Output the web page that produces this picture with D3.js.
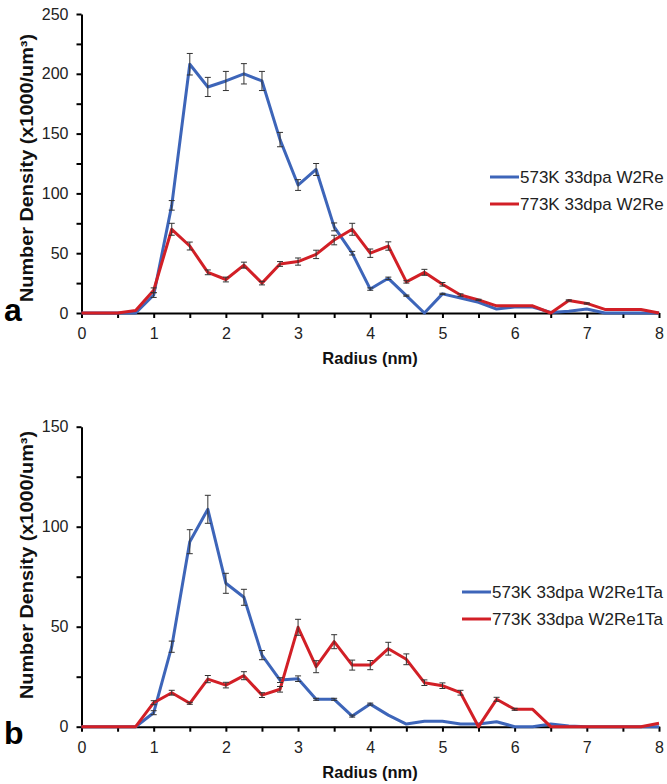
<!DOCTYPE html>
<html>
<head>
<meta charset="utf-8">
<script src="https://cdn.jsdelivr.net/npm/d3@7/dist/d3.min.js"></script>
<style>
  html, body { margin: 0; padding: 0; background: #fff; }
  svg { display: block; font-family: Arial, "Liberation Sans", sans-serif; }
</style>
</head>
<body>
<svg id="chart" width="667" height="784"></svg>
<script>
// ---------- data ----------
const radius = [0,0.25,0.5,0.75,1,1.25,1.5,1.75,2,2.25,2.5,2.75,3,3.25,3.5,3.75,4,4.25,4.5,4.75,5,5.25,5.5,5.75,6,6.25,6.5,6.75,7,7.25,7.5,7.75,8];

const xTicks = [0,0.5,1,1.5,2,2.5,3,3.5,4,4.5,5,5.5,6,6.5,7,7.5,8];
const xLabels = ["0","","1","","2","","3","","4","","5","","6","","7","","8"];

// panel a
const seriesNamesA = ["573K 33dpa W2Re", "773K 33dpa W2Re"];
const blueA = [0,0,0,0,15,90,208,189,194,200,194,145,107,120,72,50,20,29,14.5,0,16,12.5,9,3.3,5,5,0.5,1.4,3.3,0,0,0,0];
const errBlueA = [0,0,0,0,2,4,9,8,8,8.5,8,6,4.5,5,3.3,1.5,1,1,0.5,0,0.5,0,0,0,0,0,0,0,0,0,0,0,0];
const redA = [0,0,0,2,19,70,56,34,28,40,25,41,43,49,61,70,50,56,26,34,24,15,11,6,6,6,0,10.5,8,3,3,3,0];
const errRedA = [0,0,0,0,2,5,3.3,2,2,2.5,1.5,2,3,3.5,4,5,3.5,3.5,1,2.5,1.5,1,0.5,0,0,0,0,0.5,0.5,0,0,0,0];
const yTicksA = [0,25,50,75,100,125,150,175,200,225,250];
const yLabelsA = ["0","","50","","100","","150","","200","","250"];

// panel b
const seriesNamesB = ["573K 33dpa W2Re1Ta", "773K 33dpa W2Re1Ta"];
const blueB = [0,0,0,0,7,40,92.5,108.7,71.7,64.7,35.8,23.3,24,13.7,13.7,5.3,11.3,5.8,1.3,2.7,2.7,1.3,1.3,2.5,0,0,1.3,0.3,0,0,0,0,0];
const errBlueB = [0,0,0,0,1,2.8,6,7,5,4,2.3,1.2,1.4,0.5,0.5,0.5,0.5,0,0,0,0,0,0,0,0,0,0,0,0,0,0,0,0];
const redB = [0,0,0,0,12,17,11.7,23.8,20.8,25.5,15.8,18.7,49.7,30,42.5,30.8,30.8,39,33.7,22,20.5,17,0,13.7,8.7,8.7,0,0,0,0,0,0,1.7];
const errRedB = [0,0,0,0,1,1.2,0.5,1.8,1.4,2,1.2,1.4,4,3,3.5,2.5,2.3,3.2,2.7,1.4,1.4,1.2,0,1,0.5,0,0,0,0,0,0,0,0];
const yTicksB = [0,25,50,75,100,125,150];
const yLabelsB = ["0","","50","","100","","150"];

const xTitle = "Radius (nm)";
const yTitle = "Number Density (x1000/um³)";
const colors = ["#3d65b9", "#d21f26"];

// ---------- drawing ----------
const svg = d3.select("#chart");

function panel(cfg) {
  const g = svg.append("g");
  const x = d3.scaleLinear().domain([0, 8]).range([81.5, 659]);
  const y = d3.scaleLinear().domain([0, cfg.yMax]).range([cfg.y0, cfg.yTop]);

  // axes
  const xAxis = d3.axisBottom(x).tickValues(xTicks)
    .tickFormat((d, i) => xLabels[i]).tickSize(5).tickSizeOuter(0).tickPadding(10);
  const gx = g.append("g").attr("transform", `translate(0,${cfg.y0})`).call(xAxis);
  const yAxis = d3.axisLeft(y).tickValues(cfg.yTicks)
    .tickFormat((d, i) => cfg.yLabels[i]).tickSize(5).tickSizeOuter(0).tickPadding(8);
  const gy = g.append("g").attr("transform", `translate(81.5,0)`).call(yAxis);
  [gx, gy].forEach(a => {
    a.select(".domain").attr("stroke", "#000").attr("stroke-width", 2);
    a.selectAll(".tick line").attr("stroke", "#000").attr("stroke-width", 2);
    a.selectAll(".tick text").attr("fill", "#222").style("font-size", "16px")
      .style("font-family", "Arial, 'Liberation Sans', sans-serif");
  });

  // lines
  const line = d3.line().x((d, i) => x(radius[i])).y(d => y(d));
  cfg.series.forEach((s, k) => {
    g.append("path").datum(s.values)
      .attr("fill", "none").attr("stroke", colors[k]).attr("stroke-width", 3)
      .attr("stroke-linejoin", "round").attr("d", line);
  });

  // error bars
  cfg.series.forEach((s, k) => {
    const pts = s.values.map((v, i) => ({ x: radius[i], v, e: s.err[i] })).filter(p => p.e > 0);
    const eg = g.append("g").attr("stroke", "#333").attr("stroke-width", 1).attr("fill", "none");
    pts.forEach(p => {
      const cx = x(p.x), lo = y(p.v - p.e), hi = y(p.v + p.e);
      eg.append("line").attr("x1", cx).attr("x2", cx).attr("y1", lo).attr("y2", hi);
      eg.append("line").attr("x1", cx - 3).attr("x2", cx + 3).attr("y1", lo).attr("y2", lo);
      eg.append("line").attr("x1", cx - 3).attr("x2", cx + 3).attr("y1", hi).attr("y2", hi);
    });
  });

  // axis titles
  g.append("text").attr("x", 370).attr("y", cfg.xTitleY)
    .attr("text-anchor", "middle").attr("dominant-baseline", "central")
    .style("font-size", "16.5px").style("font-weight", "bold").attr("fill", "#111").text(xTitle);
  g.append("text").attr("transform", `translate(27,${cfg.yTitleY}) rotate(-90)`)
    .attr("text-anchor", "middle").attr("dominant-baseline", "central")
    .attr("textLength", 268).attr("lengthAdjust", "spacingAndGlyphs")
    .style("font-size", "18px").style("font-weight", "bold").attr("fill", "#111").text(yTitle);

  // panel letter
  g.append("text").attr("x", 4).attr("y", cfg.letterY)
    .style("font-size", "32px").style("font-weight", "bold").attr("fill", "#000").text(cfg.letter);

  // legend
  cfg.series.forEach((s, k) => {
    const ly = cfg.legY[k];
    g.append("line").attr("x1", cfg.legX).attr("x2", cfg.legX + 29).attr("y1", ly).attr("y2", ly)
      .attr("stroke", colors[k]).attr("stroke-width", 3);
    g.append("text").attr("x", cfg.legX + 30).attr("y", ly).attr("dominant-baseline", "central")
      .style("font-size", "17px").attr("fill", "#222").text(s.name);
  });
}

panel({
  yMax: 250, y0: 313, yTop: 14, yTicks: yTicksA, yLabels: yLabelsA,
  series: [{ name: seriesNamesA[0], values: blueA, err: errBlueA },
           { name: seriesNamesA[1], values: redA, err: errRedA }],
  xTitleY: 358, yTitleY: 168, letter: "a", letterY: 321,
  legX: 490, legY: [177, 204]
});
panel({
  yMax: 150, y0: 726.7, yTop: 426.7, yTicks: yTicksB, yLabels: yLabelsB,
  series: [{ name: seriesNamesB[0], values: blueB, err: errBlueB },
           { name: seriesNamesB[1], values: redB, err: errRedB }],
  xTitleY: 772, yTitleY: 565, letter: "b", letterY: 744,
  legX: 462, legY: [592, 619]
});
</script>
</body>
</html>
